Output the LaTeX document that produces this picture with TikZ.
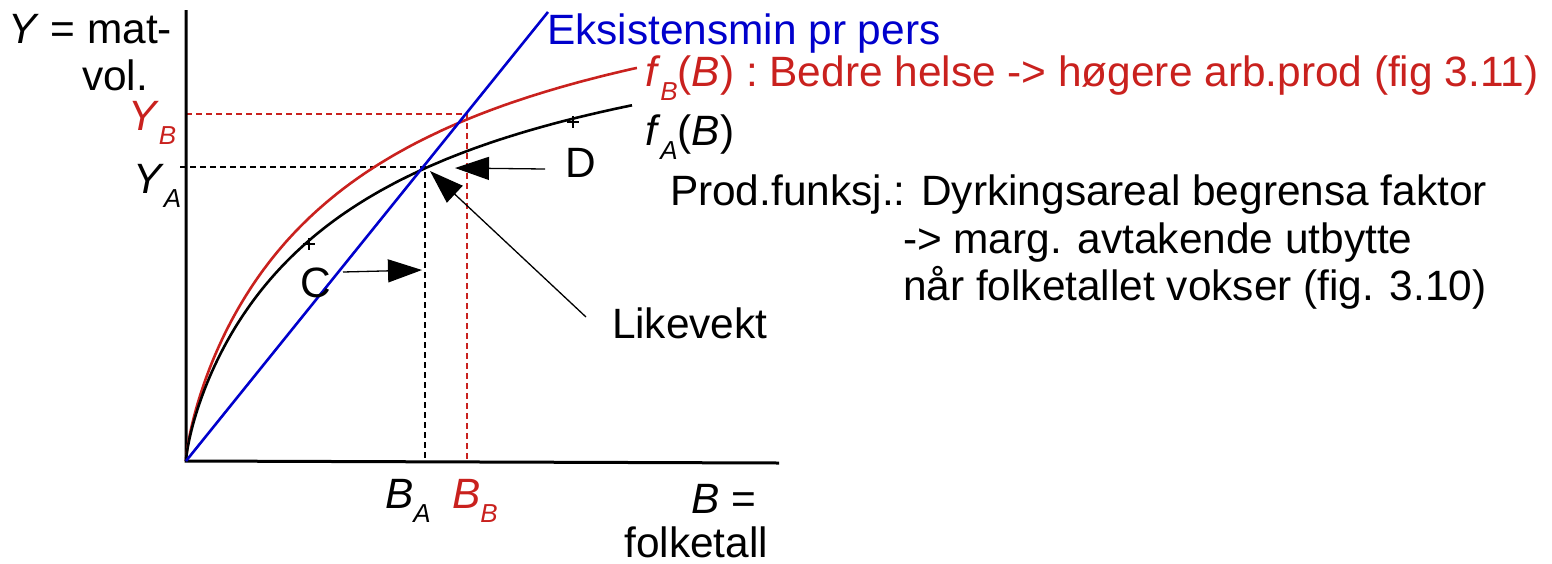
\documentclass[tikz,border=0pt]{standalone}
\usepackage{fontspec}
\setmainfont{Liberation Sans}
\usetikzlibrary{arrows.meta}
\definecolor{lored}{HTML}{C9211E}
\definecolor{loblue}{HTML}{0000CC}
\newcommand{\lowsub}[1]{\raisebox{-14pt}{\fontsize{26}{26}\selectfont\textit{#1}}}
\begin{document}
\begin{tikzpicture}[x=1pt,y=-1pt,
  lbl/.style={inner sep=0pt, outer sep=0pt, font=\fontsize{42.4}{48}\selectfont},
  axis/.style={line width=3pt},
  curve/.style={line width=2.6pt, line join=round},
  guide/.style={line width=2.2pt, dash pattern=on 6pt off 4pt},
  pointer/.style={line width=1.3pt, -{Triangle[length=34pt,width=23pt]}},
  tick/.style={line width=1.5pt}]
\useasboundingbox (0,0) rectangle (1552,563);

% key points
\coordinate (O) at (186,461);
\coordinate (ytop) at (186,10);
\coordinate (xend) at (779,463);
\coordinate (eqA) at (425,167);
\coordinate (eqB) at (467,114);
\coordinate (blueend) at (548,12);

% guides
\draw[guide] (180,167) -- (eqA) -- (425,461);
\draw[guide, lored] (186,114) -- (eqB) -- (467,461);

% axes
\draw[axis] (ytop) -- (O) -- (xend);

% curves (dense sampling near the origin: t = s^2)
\draw[curve, lored] (O) -- plot[domain=0.1:21.237, samples=200, variable=\s] ({186+\s*\s},{461-540*exp(0.72*(2*ln(\s)-ln(250+\s*\s)))});
\draw[curve] (O) -- plot[domain=0.1:21.119, samples=200, variable=\s] ({186+\s*\s},{461-490*exp(0.72*(2*ln(\s)-ln(250+\s*\s)))});
\draw[curve, loblue] (O) -- (blueend);

% plus marks
\draw[tick] (303,244) -- (315,244) (309,238) -- (309,250);
\draw[tick] (567,122) -- (579,122) (573,116) -- (573,128);

% labels
\node[lbl, anchor=base east] (ylab1) at (172,43) {\textit{Y} = mat-};
\node[lbl, anchor=base east] (ylab2) at (148,90) {vol.};
\node[lbl, anchor=base west, text=lored] (yb) at (128,130) {\textit{Y}\lowsub{B}};
\node[lbl, anchor=base west] (ya) at (133,193) {\textit{Y}\lowsub{A}};
\node[lbl, anchor=base west, text=loblue] (eks) at (547,44) {Eksistensmin pr pers};
\node[lbl, anchor=base west, text=lored] (fb) at (645,86) {\textit{f}\lowsub{B}(\textit{B}) : Bedre helse -> høgere arb.prod (fig 3.11)};
\node[lbl, anchor=base west] (fa) at (645,145) {\textit{f}\lowsub{A}(\textit{B})};
\node[lbl, anchor=base west] (dl) at (565,177) {D};
\node[lbl, anchor=base west] (cl) at (300,297) {C};
\node[lbl, anchor=base west] (lik) at (612,338) {Likevekt};
\node[lbl, anchor=base west] (p1) at (670,205) {Prod.funksj.: Dyrkingsareal begrensa faktor};
\node[lbl, anchor=base west] (p2) at (903,253) {-> marg. avtakende utbytte};
\node[lbl, anchor=base west] (p3) at (903,300) {når folketallet vokser (fig. 3.10)};
\node[lbl, anchor=base west] (ba) at (385,508) {\textit{B}\lowsub{A}};
\node[lbl, anchor=base west, text=lored] (bb) at (452,508) {\textit{B}\lowsub{B}};
\node[lbl, anchor=base east] (bx1) at (756,513) {\textit{B} =};
\node[lbl, anchor=base east] (bx2) at (768,557) {folketall};

% pointers
\coordinate (cs) at (343,272);
\coordinate (ct) at (422,270);
\coordinate (ds) at (545,169);
\coordinate (dt) at (455,168);
\coordinate (ls) at (586,317);
\coordinate (lt) at (430,171);
\draw[pointer] (cs) -- (ct);
\draw[pointer] (ds) -- (dt);
\draw[pointer] (ls) -- (lt);
\end{tikzpicture}
\end{document}
